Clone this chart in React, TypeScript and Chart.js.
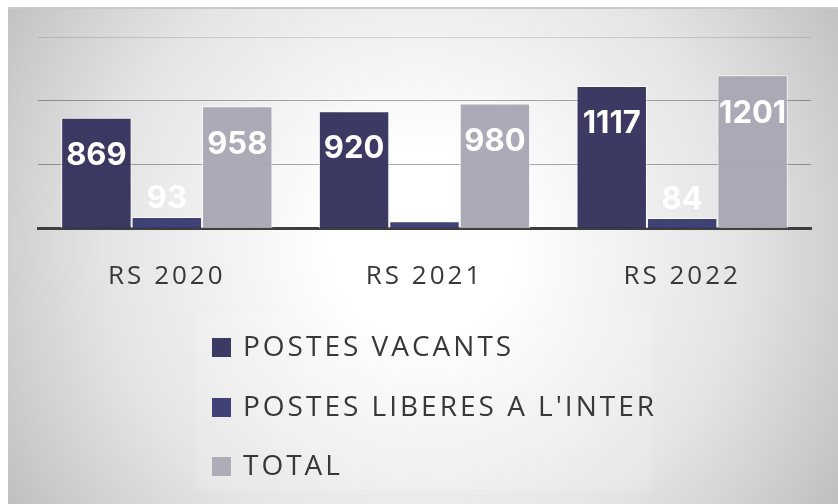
import React, { useEffect, useRef } from "react";
import { Chart, registerables } from "chart.js";

Chart.register(...registerables);

const categories = ["RS 2020", "RS 2021", "RS 2022"];
const seriesNames = ["POSTES VACANTS", "POSTES LIBERES A L'INTER", "TOTAL"];
const postesVacants = [869, 920, 1117];
const postesLiberes = [93, 60, 84];
const total = [958, 980, 1201];
const yTicks = [0, 500, 1000, 1500];

const colors = ["rgba(52,50,92,0.96)", "rgba(56,57,110,0.96)", "rgba(168,168,180,0.96)"];
const legendColors = ["#3b3a62", "#3f4177", "#adadb8"];

const FONT = "'Open Sans', 'Noto Sans', sans-serif";
const LABEL_FONT = "Inter, 'Open Sans', sans-serif";

const letterSpacingPlugin = {
  id: "letterSpacing",
  beforeDraw(chart: any) {
    chart.ctx.letterSpacing = "3px";
  },
};

const valueLabels = {
  id: "valueLabels",
  afterDraw(chart: any) {
    const ctx = chart.ctx;
    ctx.save();
    ctx.letterSpacing = "0px";
    ctx.font = `700 31px ${LABEL_FONT}`;
    ctx.fillStyle = "#ffffff";
    ctx.textAlign = "center";
    ctx.textBaseline = "middle";
    chart.data.datasets.forEach((ds: any, i: number) => {
      const meta = chart.getDatasetMeta(i);
      meta.data.forEach((bar: any, j: number) => {
        const v = ds.data[j];
        const h = bar.base - bar.y;
        const y = h > 60 ? bar.y + 38 : bar.y - 18;
        ctx.fillText(String(v), bar.x, y);
      });
    });
    ctx.restore();
  },
};

const customLegend = {
  id: "customLegend",
  afterDraw(chart: any) {
    const ctx = chart.ctx;
    ctx.save();
    ctx.fillStyle = "rgba(255,255,255,0.12)";
    ctx.fillRect(189, 305, 455, 176);
    ctx.letterSpacing = "3px";
    ctx.font = `400 28px ${FONT}`;
    ctx.textAlign = "left";
    ctx.textBaseline = "middle";
    const rows = [338, 398, 457];
    chart.data.datasets.forEach((ds: any, i: number) => {
      const y = rows[i];
      ctx.fillStyle = legendColors[i];
      ctx.fillRect(204, y - 9, 19, 19);
      ctx.fillStyle = "#383838";
      ctx.fillText(ds.label, 235, y + 1);
    });
    ctx.restore();
  },
};

export default function App() {
  const ref = useRef<HTMLCanvasElement | null>(null);

  useEffect(() => {
    if (!ref.current) return;
    const chart = new Chart(ref.current, {
      type: "bar",
      data: {
        labels: categories,
        datasets: [
          { label: seriesNames[0], data: postesVacants, backgroundColor: colors[0] },
          { label: seriesNames[1], data: postesLiberes, backgroundColor: colors[1] },
          { label: seriesNames[2], data: total, backgroundColor: colors[2] },
        ].map((d) => ({
          ...d,
          borderColor: "rgba(255,255,255,0.75)",
          borderWidth: 1,
          categoryPercentage: 0.82,
          barPercentage: 1,
        })),
      },
      options: {
        animation: false,
        responsive: true,
        maintainAspectRatio: false,
        layout: { padding: { top: 28, left: 30, right: 27, bottom: 180 } },
        plugins: {
          legend: { display: false },
          tooltip: { enabled: false },
        },
        scales: {
          x: {
            z: 1,
            grid: { display: false, drawTicks: false },
            border: { display: true, color: "#3e3e3e", width: 3 },
            ticks: {
              padding: 32,
              color: "#383838",
              font: { family: FONT, size: 26, weight: 400 },
            },
          },
          y: {
            z: 1,
            min: 0,
            max: 1500,
            afterBuildTicks: (scale: any) => {
              scale.ticks = yTicks.map((v) => ({ value: v }));
            },
            ticks: { display: false },
            border: { display: false },
            grid: {
              drawTicks: false,
              lineWidth: 1,
              color: (c: any) =>
                c.tick && c.tick.value === 0
                  ? "rgba(0,0,0,0)"
                  : c.tick && c.tick.value === 1500
                  ? "rgba(0,0,0,0.12)"
                  : "rgba(0,0,0,0.33)",
            },
          },
        },
      },
      plugins: [letterSpacingPlugin, valueLabels, customLegend],
    });
    return () => chart.destroy();
  }, []);

  return (
    <div
      style={{
        position: "absolute",
        left: 8,
        top: 7,
        width: 830,
        height: 497,
        boxSizing: "border-box",
        borderTop: "2px solid #c9c9c9",
        background:
          "radial-gradient(circle 500px at 414px 236px, #ffffff 0px, #ffffff 90px, #e4e4e4 320px, #cfcfcf 420px, #bdbdbd 500px)",
      }}
    >
      <div style={{ position: "relative", width: 830, height: 495 }}>
        <canvas ref={ref} />
      </div>
    </div>
  );
}
